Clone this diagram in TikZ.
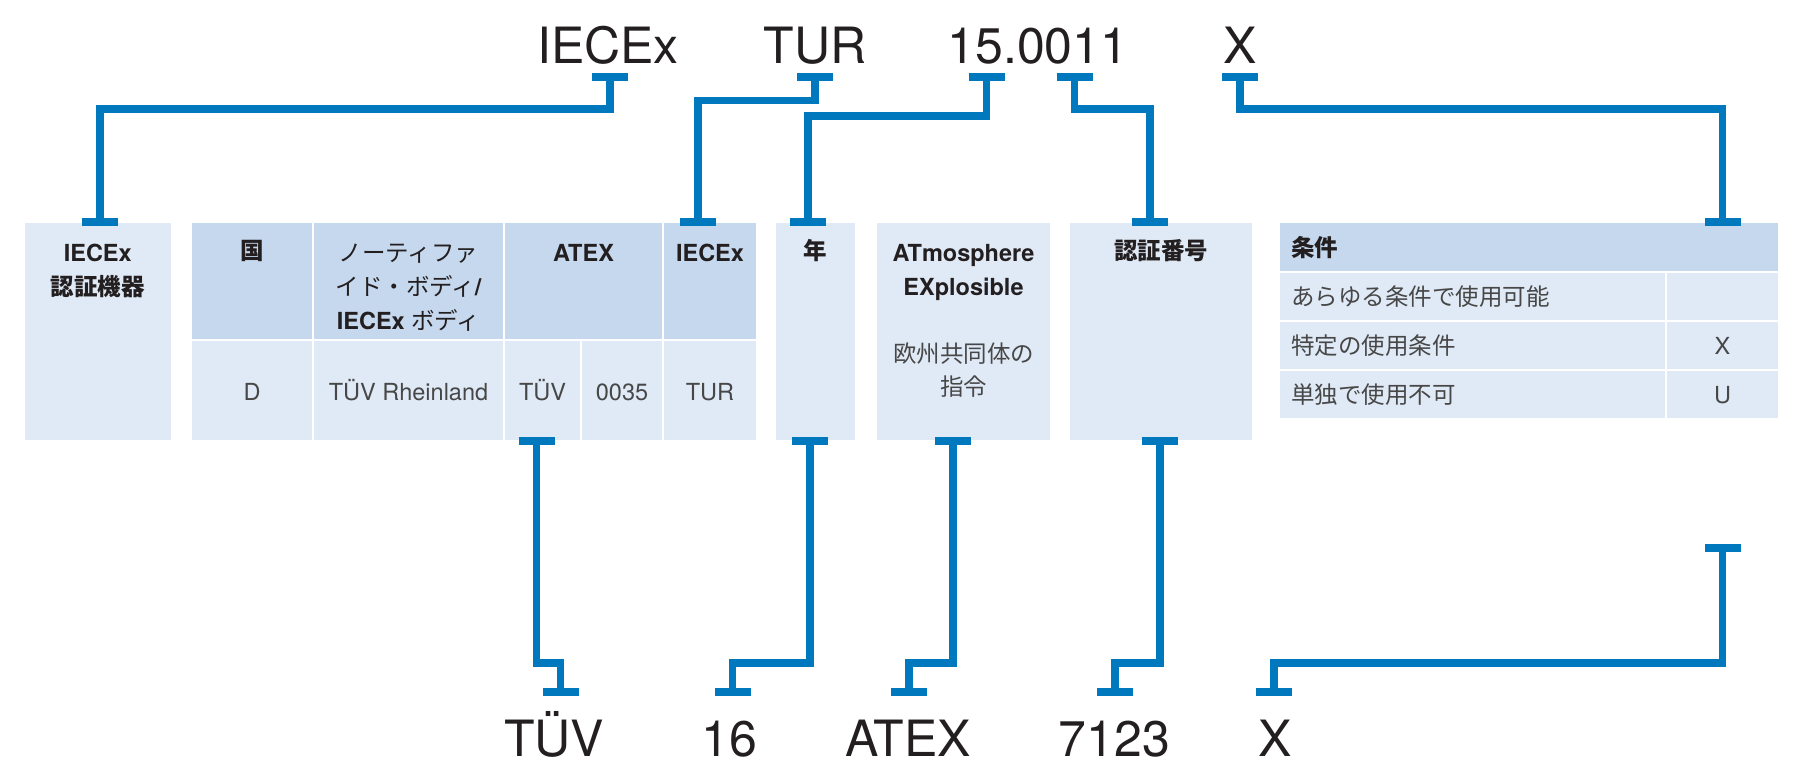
\documentclass[tikz,border=0pt]{standalone}
\usepackage{fontspec}
\setmainfont{TeX Gyre Heros}
\newfontfamily\jp{Noto Sans CJK JP}
\usetikzlibrary{arrows.meta,calc}
\definecolor{Ink}{HTML}{231F20}
\definecolor{Grey}{HTML}{474747}
\definecolor{LinkBlue}{HTML}{0078BE}
\definecolor{PaleBlue}{HTML}{E0EAF6}
\definecolor{MidBlue}{HTML}{C6D8EE}

\begin{document}
\begin{tikzpicture}[x=0.5pt, y=-0.5pt]
\tikzset{cell/.style={draw=white, line width=1.25pt, fill=#1, inner sep=0, outer sep=0, anchor=north west}, sz/.style 2 args={minimum width=#1*0.5pt, minimum height=#2*0.5pt}, big/.style={font=\fontsize{25}{30}\selectfont, text=Ink, inner sep=0, anchor=base}, hd/.style={font=\fontsize{11.75}{17}\selectfont\bfseries, text=Ink, align=center, inner sep=0, anchor=base}, dat/.style={font=\fontsize{11.75}{16.5}\selectfont, text=Grey, align=center, inner sep=0, anchor=base}, jpdat/.style={dat, font=\fontsize{11.75}{16.5}\selectfont\jp}, link/.style={draw=LinkBlue, line width=3.75pt, arrows={Bar[width=18pt,line width=4pt]-Bar[width=18pt,line width=4pt]}}, tobox/.style={link, shorten >=-2pt}, frombox/.style={link, shorten <=-2pt}}
\useasboundingbox (0,0) rectangle (1798,777);

% boxes and table cells
\foreach \n/\x/\y/\w/\h/\c in {boxA/23.5/222/148.5/219/PaleBlue, hCty/191/222/122/118/MidBlue, hNB/313/222/191/118/MidBlue, hATX/504/222/159/118/MidBlue, hIEC/663/222/94/118/MidBlue,
  dD/191/340/122/101/PaleBlue, dNB/313/340/191/101/PaleBlue, dTUV/504/340/77/101/PaleBlue, d0035/581/340/82/101/PaleBlue, dTUR/663/340/94/101/PaleBlue,
  boxYr/775/222/81/219/PaleBlue, boxAtm/876/222/175/219/PaleBlue, boxNo/1069/222/184/219/PaleBlue,
  hCond/1279/222/500/50/MidBlue, r1a/1279/272/387/49/PaleBlue, r1b/1666/272/113/49/PaleBlue, r2a/1279/321/387/49/PaleBlue, r2b/1666/321/113/49/PaleBlue, r3a/1279/370/387/49.5/PaleBlue, r3b/1666/370/113/49.5/PaleBlue}
  \node[cell=\c, sz={\w}{\h}] (\n) at (\x,\y) {};

% header texts (multi-line nodes sit on their last line)
\node[hd] (tA) at ([yshift=-36.5pt]boxA.north) {IECEx\\\jp 認証機器};
\node[hd] (tCty) at ([yshift=-18.5pt]hCty.north) {\jp 国};
\node[hd] (tNB) at ([yshift=-53.5pt]hNB.north) {{\mdseries\jp ノーティファ}\\{\mdseries\jp イド・ボディ}/\\IECEx {\mdseries\jp ボディ}};
\node[hd] (tATX) at ([yshift=-19.5pt]hATX.north) {ATEX};
\node[hd] (tIEC) at ([yshift=-19.5pt]hIEC.north) {IECEx};
\node[hd] (tYr) at ([yshift=-18.5pt]boxYr.north) {\jp 年};
\node[hd] (tAtm) at ([yshift=-36.5pt]boxAtm.north) {ATmosphere\\EXplosible};
\node[jpdat] (tEU) at ([yshift=-86.5pt]boxAtm.north) {欧州共同体の\\指令};
\node[hd] (tNo) at ([yshift=-18.5pt]boxNo.north) {\jp 認証番号};
\node[hd, anchor=west] (tCond) at ([xshift=6pt,yshift=-0.5pt]hCond.west) {\jp 条件};

% table values
\node[dat] (tD) at ([yshift=-4.75pt]dD.center) {D};
\node[dat] (tNBv) at ([yshift=-4.75pt]dNB.center) {TÜV Rheinland};
\node[dat] (tTUVv) at ([yshift=-4.75pt]dTUV.center) {TÜV};
\node[dat] (t0035) at ([yshift=-4.75pt]d0035.center) {0035};
\node[dat] (tTURv) at ([yshift=-4.75pt]dTUR.center) {TUR};
\node[jpdat, anchor=west] (tR1) at ([xshift=6pt]r1a.west) {あらゆる条件で使用可能};
\node[jpdat, anchor=west] (tR2) at ([xshift=6pt]r2a.west) {特定の使用条件};
\node[jpdat, anchor=west] (tR3) at ([xshift=6pt]r3a.west) {単独で使用不可};
\node[dat, anchor=center] (tR2b) at (r2b.center) {X};
\node[dat, anchor=center] (tR3b) at (r3b.center) {U};

% certificate numbers
\node[big] (nIEC) at (608,63) {IECEx};
\node[big] (nTUR) at (815,63) {TUR};
\node[big] (nNum) at (1038,63) {15.0011};
\node[big] (nX) at (1240,63) {X};
\node[big] (bTUV) at (554,756) {TÜV};
\node[big] (b16) at (729.5,756) {16};
\node[big] (bATEX) at (908,756) {ATEX};
\node[big] (b7123) at (1114.5,756) {7123};
\node[big] (bX) at (1275,756) {X};

\coordinate (uIEC) at ([xshift=1pt,yshift=-5pt]nIEC.base);
\coordinate (uTUR) at ([yshift=-5pt]nTUR.base);
\coordinate (u15) at ([xshift=-25.75pt,yshift=-5pt]nNum.base);
\coordinate (u0011) at ([xshift=18.25pt,yshift=-5pt]nNum.base);
\coordinate (uX) at ([yshift=-5pt]nX.base);
\coordinate (lTUV) at ([xshift=3.25pt,yshift=30pt]bTUV.base);
\coordinate (l16) at ([xshift=1.5pt,yshift=30pt]b16.base);
\coordinate (lATEX) at ([xshift=0.5pt,yshift=30pt]bATEX.base);
\coordinate (l7123) at ([xshift=0.25pt,yshift=30pt]b7123.base);
\coordinate (lX) at ([xshift=-0.5pt,yshift=30pt]bX.base);
\coordinate (cX) at ([yshift=-62.25pt]r3b.south);

% connectors
\draw[tobox] (uIEC) -- ++(0,36) -| ([xshift=1pt]boxA.north);
\draw[tobox] (uTUR) -- ++(0,27.5) -| ([xshift=-6pt]hIEC.north);
\draw[tobox] (u15) -- ++(0,43) -| ([xshift=-3.75pt]boxYr.north);
\draw[tobox] (u0011) -- ++(0,36) -| ([xshift=-5.5pt]boxNo.north);
\draw[tobox] (uX) -- ++(0,36) -| (r1b.north |- hCond.north);
\draw[frombox] ([xshift=-3pt]dTUV.south) |- ([yshift=16.5pt]lTUV) -- (lTUV);
\draw[frombox] ([xshift=-2.75pt]boxYr.south) |- ([yshift=16.5pt]l16) -- (l16);
\draw[frombox] ([xshift=-5.25pt]boxAtm.south) |- ([yshift=16.5pt]lATEX) -- (lATEX);
\draw[frombox] ([xshift=-0.5pt]boxNo.south) |- ([yshift=16.5pt]l7123) -- (l7123);
\draw[link] (cX) |- ([yshift=16.5pt]lX) -- (lX);
\end{tikzpicture}
\end{document}
